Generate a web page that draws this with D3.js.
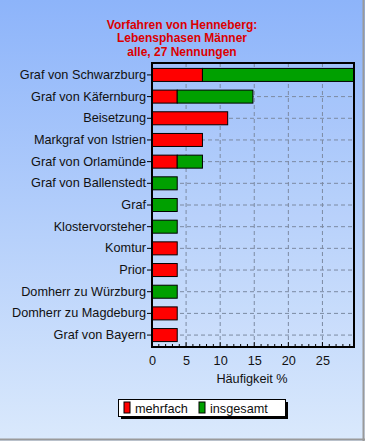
<!DOCTYPE html>
<html>
<head>
<meta charset="utf-8">
<script src="https://cdn.jsdelivr.net/npm/d3@7"></script>
<style>
  body { margin: 0; padding: 0; }
  text { font-family: "Liberation Sans", Arial, sans-serif; }
  .title { font-weight: bold; font-size: 12px; fill: #dd0000; }
  .tickText { fill: #111; }
  .axisLabel { font-size: 12.7px; fill: #111; }
  .legendText { font-size: 12.7px; fill: #111; }
</style>
</head>
<body>
<div id="chart"></div>
<script>
// Data (percent of 27 mentions)
var categories = ["Graf von Schwarzburg", "Graf von Käfernburg", "Beisetzung", "Markgraf von Istrien",
  "Graf von Orlamünde", "Graf von Ballenstedt", "Graf", "Klostervorsteher", "Komtur", "Prior",
  "Domherr zu Würzburg", "Domherr zu Magdeburg", "Graf von Bayern"];
var mehrfach  = [7.4, 3.7, 11.1, 7.4, 3.7, 0, 0, 0, 3.7, 3.7, 0, 3.7, 3.7];
var insgesamt = [22.2, 11.1, 0, 0, 3.7, 3.7, 3.7, 3.7, 0, 0, 3.7, 0, 0];
var xTicks = [0, 5, 10, 15, 20, 25];
var seriesNames = ["mehrfach", "insgesamt"];
var titleLines = ["Vorfahren von Henneberg:", "Lebensphasen Männer", "alle, 27 Nennungen"];

// Spacing
var W = 365, H = 441;
var margin = {top: 63, right: 11, bottom: 94, left: 152};
var width = W - margin.left - margin.right;
var height = H - margin.top - margin.bottom;
var colors = ["#ff0000", "#00a000"];

var svg = d3.select("#chart")
  .append("svg")
  .attr("width", W)
  .attr("height", H);

// Background gradient
var defs = svg.append("defs");
var grad = defs.append("linearGradient")
  .attr("id", "bg")
  .attr("x1", 0).attr("y1", 0).attr("x2", 0).attr("y2", 1);
grad.append("stop").attr("offset", "0%").attr("stop-color", "#8db4fa");
grad.append("stop").attr("offset", "100%").attr("stop-color", "#dae9fc");

svg.append("rect")
  .attr("width", W).attr("height", H)
  .style("fill", "url(#bg)");

// outer frame (right & bottom grey edge)
svg.append("line").attr("x1", W - 1.5).attr("x2", W - 1.5).attr("y1", 0).attr("y2", H)
  .style("stroke", "#9a9a9a").style("stroke-width", 2);
svg.append("line").attr("x1", 0).attr("x2", W).attr("y1", H - 1.5).attr("y2", H - 1.5)
  .style("stroke", "#9a9a9a").style("stroke-width", 2);

// Title
svg.selectAll(".title")
  .data(titleLines)
  .enter()
  .append("text")
  .attr("class", "title")
  .attr("x", 182)
  .attr("y", function(d, i) { return 29 + i * 13.3; })
  .style("text-anchor", "middle")
  .text(function(d) { return d; });

var g = svg.append("g")
  .attr("transform", "translate(" + margin.left + "," + margin.top + ")");

// Scales
var xScale = d3.scaleLinear()
  .domain([0, 29.63])
  .range([0, width]);

var yScale = d3.scaleBand()
  .domain(categories)
  .range([0, height])
  .paddingInner(0.4)
  .paddingOuter(0.25);

// plot area fill
g.append("rect")
  .attr("width", width).attr("height", height)
  .style("fill", "#ffffff").style("fill-opacity", 0.08);

// Grid lines
g.selectAll(".vgrid")
  .data(xTicks.slice(1))
  .enter()
  .append("line")
  .attr("x1", function(d) { return xScale(d); })
  .attr("x2", function(d) { return xScale(d); })
  .attr("y1", 0).attr("y2", height)
  .style("stroke", "#7c8aa2").style("stroke-dasharray", "4,3");

g.selectAll(".hgrid")
  .data(categories)
  .enter()
  .append("line")
  .attr("x1", 0).attr("x2", width)
  .attr("y1", function(d) { return yScale(d) + yScale.bandwidth() / 2; })
  .attr("y2", function(d) { return yScale(d) + yScale.bandwidth() / 2; })
  .style("stroke", "#7c8aa2").style("stroke-dasharray", "4,3");

// Stacked bars
var rows = categories.map(function(c, i) {
  return {cat: c, m: mehrfach[i], s: insgesamt[i]};
});

g.selectAll(".barM")
  .data(rows.filter(function(d) { return d.m > 0; }))
  .enter()
  .append("rect")
  .attr("x", xScale(0))
  .attr("y", function(d) { return yScale(d.cat); })
  .attr("width", function(d) { return xScale(d.m) - xScale(0); })
  .attr("height", yScale.bandwidth())
  .style("fill", colors[0]).style("stroke", "#000");

g.selectAll(".barS")
  .data(rows.filter(function(d) { return d.s > 0; }))
  .enter()
  .append("rect")
  .attr("x", function(d) { return xScale(d.m); })
  .attr("y", function(d) { return yScale(d.cat); })
  .attr("width", function(d) { return xScale(d.m + d.s) - xScale(d.m); })
  .attr("height", yScale.bandwidth())
  .style("fill", colors[1]).style("stroke", "#000");

// Plot border
g.append("rect")
  .attr("width", width).attr("height", height)
  .style("fill", "none").style("stroke", "#000").style("stroke-width", 2);

// Y axis
var yAxis = g.append("g")
  .call(d3.axisLeft(yScale).tickSize(5).tickSizeOuter(0).tickPadding(1));
yAxis.select(".domain").remove();
yAxis.selectAll("text").attr("class", "tickText").attr("fill", null).style("font-size", "12.7px");

// X axis with minor ticks pointing inward
var xAxis = g.append("g")
  .attr("transform", "translate(0," + height + ")")
  .call(d3.axisBottom(xScale).tickValues(xTicks).tickSize(0).tickPadding(9));
xAxis.select(".domain").remove();
xAxis.selectAll("text").attr("class", "tickText").attr("fill", null).style("font-size", "12.7px");

g.selectAll(".minor")
  .data(d3.range(1, 30))
  .enter()
  .append("line")
  .attr("x1", function(d) { return xScale(d); })
  .attr("x2", function(d) { return xScale(d); })
  .attr("y1", height)
  .attr("y2", function(d) { return d % 5 === 0 ? height - 5 : height - 3; })
  .style("stroke", "#000");

svg.append("text")
  .attr("class", "axisLabel")
  .attr("x", 252)
  .attr("y", 383)
  .style("text-anchor", "middle")
  .text("Häufigkeit %");

// Legend
var lg = svg.append("g").attr("transform", "translate(118,399)");
lg.append("rect").attr("x", 3).attr("y", 3).attr("width", 167).attr("height", 17).style("fill", "#000");
lg.append("rect").attr("x", 0.5).attr("y", 0.5).attr("width", 167).attr("height", 17)
  .style("fill", "#fff").style("stroke", "#000");

var items = lg.selectAll(".item")
  .data(seriesNames)
  .enter()
  .append("g")
  .attr("transform", function(d, i) { return "translate(" + (6 + i * 75) + ",3)"; });
items.append("rect")
  .attr("width", 6).attr("height", 11)
  .style("fill", function(d, i) { return colors[i]; })
  .style("stroke", "#000");
items.append("text")
  .attr("class", "legendText")
  .attr("x", 11).attr("y", 10.5)
  .text(function(d) { return d; });
</script>
</body>
</html>
